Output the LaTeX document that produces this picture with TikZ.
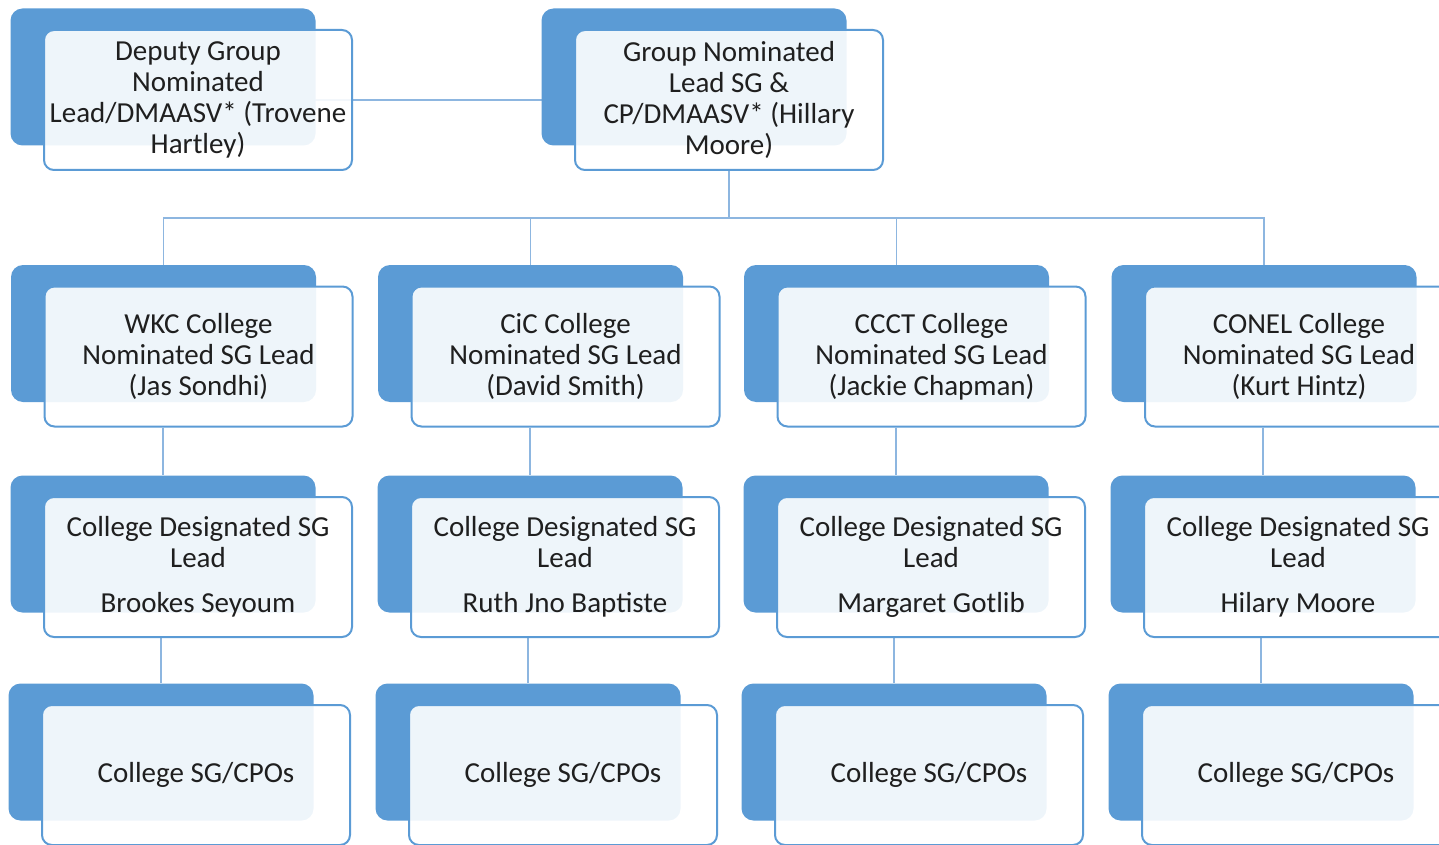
\documentclass[tikz,border=0pt]{standalone}
\usepackage{fontspec}
\setmainfont{Carlito}
\pgfdeclarelayer{bg}
\pgfsetlayers{bg,main}
\definecolor{accblue}{HTML}{5B9BD5}
\definecolor{linkblue}{HTML}{8DB6E0}
\tikzset{
	backbox/.style={rectangle, rounded corners=12pt, fill=accblue, minimum width=305pt, minimum height=137pt, inner sep=0pt},
	frontbox/.style={rectangle, rounded corners=10pt, draw=accblue, line width=2pt, fill=white, fill opacity=0.9, text opacity=1, text=black!88, minimum width=308pt, minimum height=140pt, inner sep=0pt, align=center, font=\fontsize{29}{31}\selectfont, xshift=35pt, yshift=-23pt},
	link/.style={draw=linkblue, line width=1.5pt}
}

\begin{document}
\begin{tikzpicture}[x=1pt,y=-1pt]
	\useasboundingbox (0,0) rectangle (1439,845);
	\clip (0,0) rectangle (1439,845);

	% top row
	\node[backbox] (dep-b) at (163,77) {};
	\node[frontbox] (dep) at (dep-b.center) {Deputy Group\\Nominated\\Lead/DMAASV* (Trovene\\Hartley)};
	\node[backbox] (grp-b) at (694,77) {};
	\node[frontbox] (grp) at (grp-b.center) {Group Nominated\\Lead SG \&\\CP/DMAASV* (Hillary\\Moore)};

	% college leads
	\node[backbox] (wkc-b) at (163.5,333.5) {};
	\node[frontbox] (wkc) at (wkc-b.center) {WKC College\\Nominated SG Lead\\(Jas Sondhi)};
	\node[backbox] (cic-b) at (530.5,333.5) {};
	\node[frontbox] (cic) at (cic-b.center) {CiC College\\Nominated SG Lead\\(David Smith)};
	\node[backbox] (ccct-b) at (896.5,333.5) {};
	\node[frontbox] (ccct) at (ccct-b.center) {CCCT College\\Nominated SG Lead\\(Jackie Chapman)};
	\node[backbox] (conel-b) at (1264,333.5) {};
	\node[frontbox] (conel) at (conel-b.center) {CONEL College\\Nominated SG Lead\\(Kurt Hintz)};

	% designated leads
	\node[backbox] (wkc-des-b) at (163,544) {};
	\node[frontbox] (wkc-des) at (wkc-des-b.center) {College Designated SG\\Lead\\[14pt]Brookes Seyoum};
	\node[backbox] (cic-des-b) at (530,544) {};
	\node[frontbox] (cic-des) at (cic-des-b.center) {College Designated SG\\Lead\\[14pt]Ruth Jno Baptiste};
	\node[backbox] (ccct-des-b) at (896,544) {};
	\node[frontbox] (ccct-des) at (ccct-des-b.center) {College Designated SG\\Lead\\[14pt]Margaret Gotlib};
	\node[backbox] (conel-des-b) at (1263,544) {};
	\node[frontbox] (conel-des) at (conel-des-b.center) {College Designated SG\\Lead\\[14pt]Hilary Moore};

	% SG/CPOs
	\foreach \n/\x in {wkc/161, cic/528, ccct/894, conel/1261} {
		\node[backbox] (\n-cpo-b) at (\x,752) {};
		\node[frontbox] (\n-cpo) at (\n-cpo-b.center) {College SG/CPOs};
	}

	\begin{pgfonlayer}{bg}
		\draw[link] (dep.center) -- (grp.center);
		\coordinate (bus) at (729,218);
		\draw[link] (grp.south) -- (bus);
		\foreach \n in {wkc, cic, ccct, conel} {
			\draw[link] (\n-b.north) |- (bus);
			\draw[link] (\n-des-b.north |- \n.south) -- (\n-des-b.north);
			\draw[link] (\n-cpo-b.north |- \n-des.south) -- (\n-cpo-b.north);
		}
	\end{pgfonlayer}
\end{tikzpicture}
\end{document}
